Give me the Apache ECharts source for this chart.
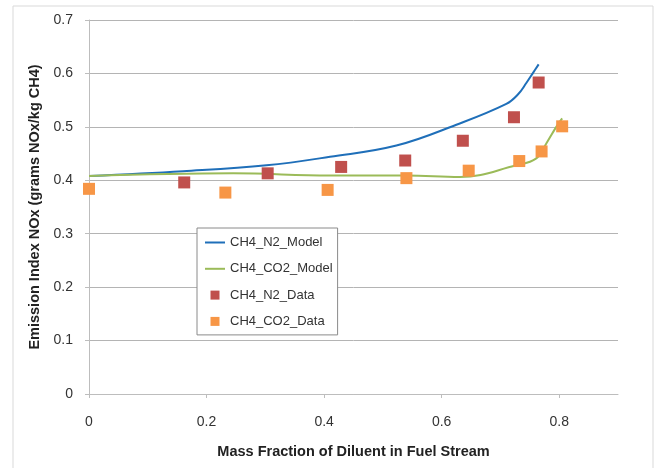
<!DOCTYPE html>
<html>
<head>
<meta charset="utf-8">
<script src="https://cdn.jsdelivr.net/npm/echarts@6/dist/echarts.min.js"></script>
<style>
  html, body { margin: 0; padding: 0; background: #fff; }
  #chart { width: 657px; height: 468px; }
</style>
</head>
<body>
<div id="chart"></div>
<script>
// Model curves: [mass fraction, emission index]
const n2Model = [
  [0.000, 0.408], [0.160, 0.417], [0.302, 0.428], [0.410, 0.444],
  [0.523, 0.465], [0.625, 0.504], [0.710, 0.543], [0.730, 0.561],
  [0.744, 0.582], [0.756, 0.602], [0.765, 0.617]
];
const co2Model = [
  [0.000, 0.408], [0.245, 0.413], [0.410, 0.409], [0.540, 0.409],
  [0.631, 0.406], [0.727, 0.428], [0.761, 0.441], [0.778, 0.469],
  [0.795, 0.500], [0.805, 0.516]
];
// Measured points
const n2Data = [
  [0.162, 0.396], [0.304, 0.413], [0.429, 0.425], [0.538, 0.437],
  [0.636, 0.474], [0.723, 0.518], [0.765, 0.583]
];
const co2Data = [
  [0.000, 0.384], [0.232, 0.377], [0.406, 0.382], [0.540, 0.404],
  [0.646, 0.418], [0.732, 0.436], [0.770, 0.454], [0.805, 0.501]
];
const xTicks = [0, 0.2, 0.4, 0.6, 0.8];
const seriesNames = ['CH4_N2_Model', 'CH4_CO2_Model', 'CH4_N2_Data', 'CH4_CO2_Data'];

const FONT = '"Liberation Sans", Arial, sans-serif';
// Small centred square inside a 20x9 icon box (the two empty moves fix the box size)
const squareIcon = 'path://M0,0L0,0M20,9L20,9M5.5,0h9v9h-9z';

const chart = echarts.init(document.getElementById('chart'));

chart.setOption({
  animation: false,
  backgroundColor: '#fff',
  graphic: [{
    type: 'rect',
    shape: { x: 13, y: 6, width: 640, height: 470 },
    style: { fill: 'none', stroke: '#d9d9d9', lineWidth: 1 },
    silent: true, z: -1
  }],
  grid: { left: 89, right: 39, top: 20, bottom: 74, containLabel: false },
  legend: {
    orient: 'vertical',
    left: 197, top: 228,
    padding: [8, 5, 7, 7],
    itemGap: 13.3,
    itemWidth: 20, itemHeight: 9,
    backgroundColor: '#fff',
    borderColor: '#8a8a8a', borderWidth: 1,
    textStyle: { fontFamily: FONT, fontSize: 13, color: '#333' },
    data: [
      { name: seriesNames[0], itemStyle: { opacity: 0 } },
      { name: seriesNames[1], itemStyle: { opacity: 0 } },
      { name: seriesNames[2], icon: squareIcon },
      { name: seriesNames[3], icon: squareIcon }
    ]
  },
  xAxis: {
    type: 'value',
    min: 0, max: 0.9,
    name: 'Mass Fraction of Diluent in Fuel Stream',
    nameLocation: 'middle', nameGap: 50,
    nameTextStyle: { fontFamily: FONT, fontSize: 14.5, fontWeight: 'bold', color: '#222' },
    axisLine: { show: true, lineStyle: { color: '#bdbdbd', width: 1 } },
    axisTick: { show: true, length: 4, customValues: xTicks, lineStyle: { color: '#bdbdbd' } },
    axisLabel: {
      customValues: xTicks, margin: 21,
      fontFamily: FONT, fontSize: 14, color: '#333',
      formatter: v => String(v)
    },
    splitLine: { show: false }
  },
  yAxis: {
    type: 'value',
    min: 0, max: 0.7, interval: 0.1,
    name: 'Emission Index NOx (grams NOx/kg CH4)',
    nameLocation: 'middle', nameGap: 46,
    nameTextStyle: { fontFamily: FONT, fontSize: 14.5, fontWeight: 'bold', color: '#222' },
    axisLine: { show: true, lineStyle: { color: '#bdbdbd', width: 1 } },
    axisTick: { show: true, length: 4, lineStyle: { color: '#bdbdbd' } },
    axisLabel: {
      margin: 16, fontFamily: FONT, fontSize: 14, color: '#333',
      formatter: v => String(Math.round(v * 10) / 10)
    },
    splitLine: { show: true, lineStyle: { color: '#b4b4b4', width: 1 } }
  },
  series: [
    {
      name: seriesNames[0], type: 'line', data: n2Model,
      smooth: 0.4, symbol: 'none', z: 3,
      lineStyle: { color: '#1f6fb9', width: 2 }, itemStyle: { color: '#1f6fb9' }
    },
    {
      name: seriesNames[1], type: 'line', data: co2Model,
      smooth: 0.4, symbol: 'none', z: 3,
      lineStyle: { color: '#9bbb59', width: 2 }, itemStyle: { color: '#9bbb59' }
    },
    {
      name: seriesNames[2], type: 'scatter', data: n2Data,
      symbol: 'rect', symbolSize: 12, z: 4,
      itemStyle: { color: '#c0504d', opacity: 1 }
    },
    {
      name: seriesNames[3], type: 'scatter', data: co2Data,
      symbol: 'rect', symbolSize: 12, z: 4,
      itemStyle: { color: '#f79646', opacity: 1 }
    }
  ]
});
</script>
</body>
</html>
